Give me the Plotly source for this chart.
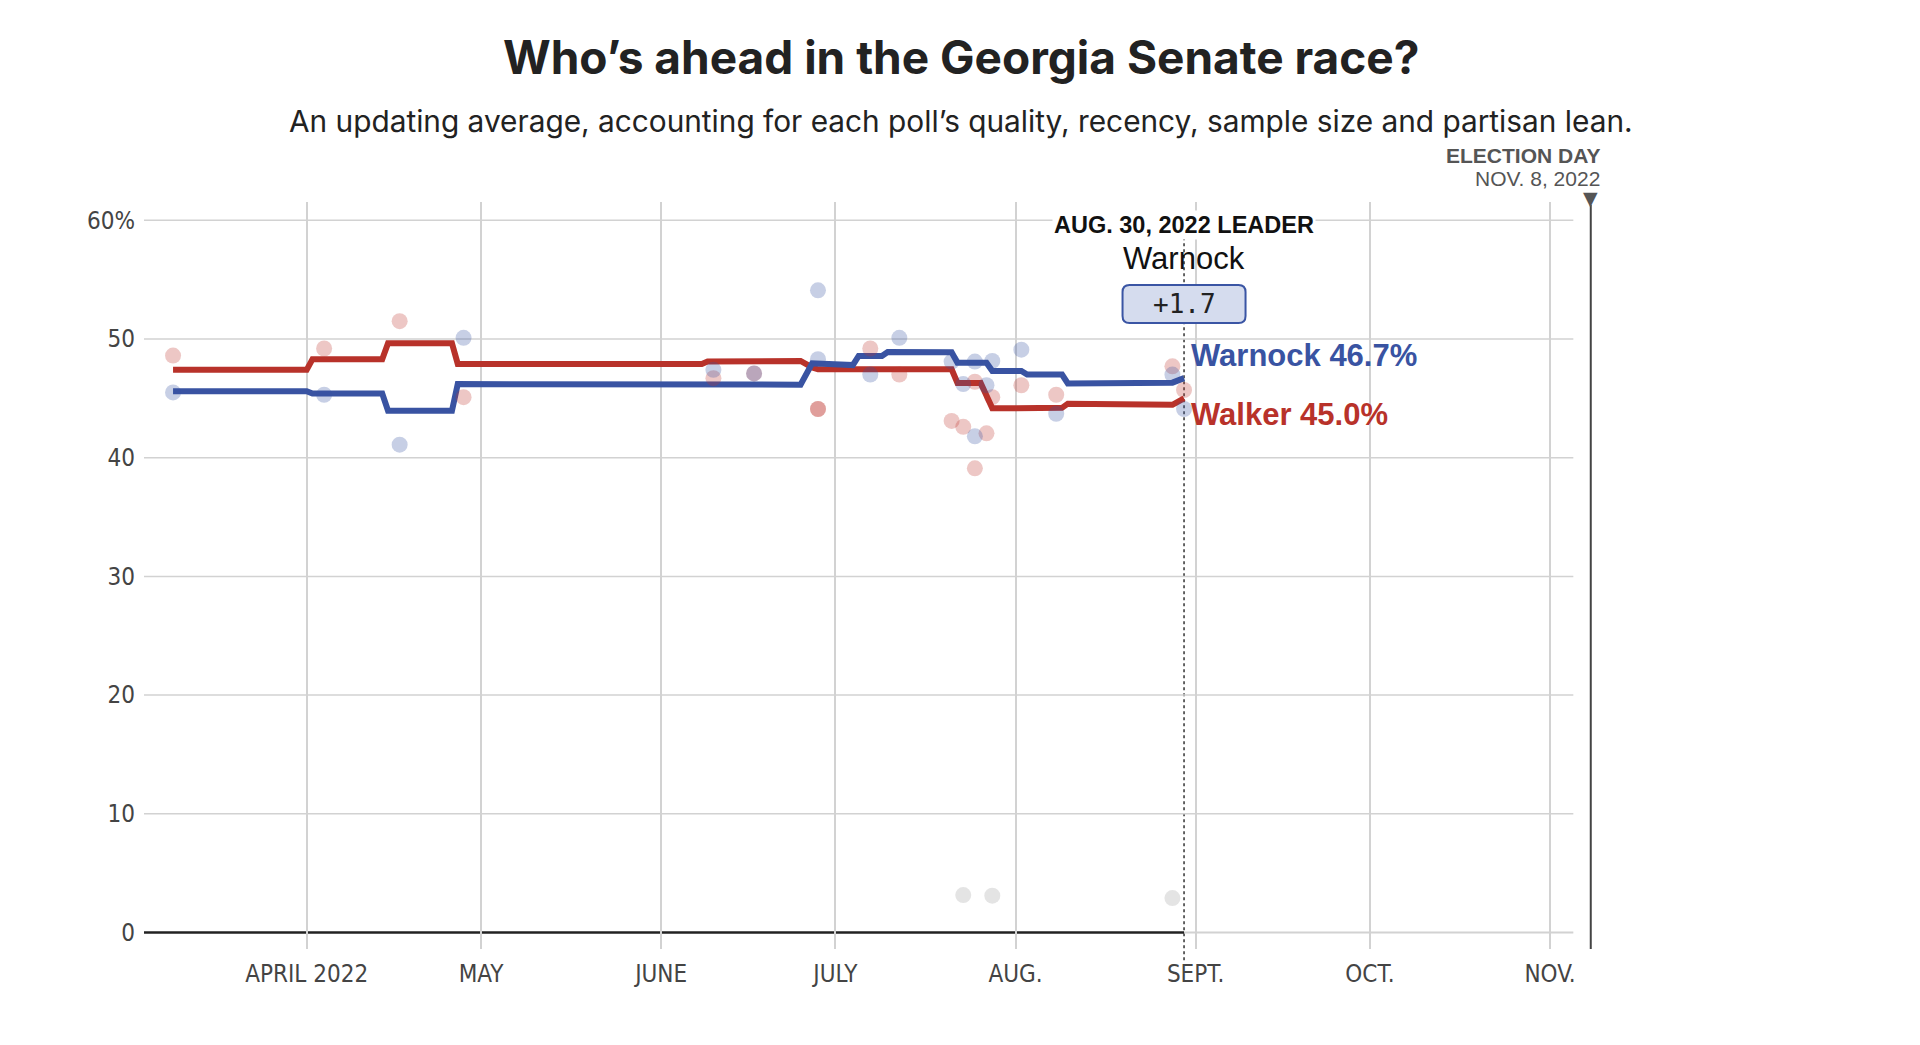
import plotly.graph_objects as go

# ---------------- data ----------------
warnock_avg_dates = ["2022-03-09", "2022-04-01", "2022-04-02", "2022-04-14", "2022-04-15",
                     "2022-04-26", "2022-04-27", "2022-06-08", "2022-06-09", "2022-06-25",
                     "2022-06-27", "2022-07-01", "2022-07-04", "2022-07-05", "2022-07-09",
                     "2022-07-10", "2022-07-21", "2022-07-22", "2022-07-27", "2022-07-28",
                     "2022-08-02", "2022-08-03", "2022-08-09", "2022-08-10", "2022-08-15",
                     "2022-08-16", "2022-08-28", "2022-08-30"]
warnock_avg = [45.6, 45.6, 45.4, 45.4, 43.95,
               43.95, 46.2, 46.2, 46.15, 46.15,
               47.95, 47.8, 47.8, 48.57, 48.57,
               48.9, 48.88, 48.0, 48.0, 47.3,
               47.3, 47.0, 47.0, 46.25, 46.25,
               46.35, 46.32, 46.7]

walker_avg_dates = ["2022-03-09", "2022-04-01", "2022-04-02", "2022-04-14", "2022-04-15",
                    "2022-04-26", "2022-04-27", "2022-06-08", "2022-06-09", "2022-06-25",
                    "2022-06-27", "2022-06-28", "2022-07-21", "2022-07-22", "2022-07-26",
                    "2022-07-28", "2022-08-09", "2022-08-10", "2022-08-28", "2022-08-30"]
walker_avg = [47.4, 47.4, 48.3, 48.3, 49.65,
              49.65, 47.9, 47.9, 48.1, 48.15,
              47.6, 47.45, 47.45, 46.3, 46.3,
              44.16, 44.2, 44.55, 44.45, 45.0]

poll_dates = ["2022-03-09", "2022-04-04", "2022-04-17", "2022-04-28", "2022-06-10",
              "2022-06-17", "2022-06-28", "2022-06-28", "2022-07-07", "2022-07-12",
              "2022-07-21", "2022-07-23", "2022-07-25", "2022-07-25", "2022-07-27",
              "2022-07-28", "2022-08-02", "2022-08-08", "2022-08-28", "2022-08-30"]
poll_warnock = [45.5, 45.3, 41.1, 50.1, 47.4,
                47.1, 54.1, 48.3, 47.0, 50.1,
                48.1, 46.2, 48.1, 41.8, 46.1,
                48.15, 49.1, 43.7, 47.0, 44.1]
poll_walker = [48.6, 49.2, 51.5, 45.1, 46.7,
               47.1, 44.1, 44.1, 49.2, 47.0,
               43.1, 42.6, 46.4, 39.1, 42.05,
               45.1, 46.1, 45.3, 47.7, 45.7]

other_dates = ["2022-07-23", "2022-07-28", "2022-08-28"]
poll_other = [3.15, 3.1, 2.9]

month_ticks = ["2022-04-01", "2022-05-01", "2022-06-01", "2022-07-01", "2022-08-01",
               "2022-09-01", "2022-10-01", "2022-11-01"]
month_labels = ["APRIL 2022", "MAY", "JUNE", "JULY", "AUG.", "SEPT.", "OCT.", "NOV."]
y_ticks = [0, 10, 20, 30, 40, 50, 60]
y_labels = ["0", "10", "20", "30", "40", "50", "60%"]

leader_date = "2022-08-30"
election_date = "2022-11-08"
x_start, x_end = "2022-03-04", "2022-11-12"
grid_end = "2022-11-05"
Y0, Y1 = -1.39, 61.54
PLOT_LEFT, PLOT_W = 144, 1470
PLOT_TOP, PLOT_H = 202, 747


def paper_y(py):
    return (PLOT_TOP + PLOT_H - py) / PLOT_H


def paper_x(px):
    return (px - PLOT_LEFT) / PLOT_W


BLUE = "#3953a2"
RED = "#b8322a"
TICK_FONT = "Liberation Sans Narrow, DejaVu Sans Condensed, Roboto Condensed, Arial Narrow, sans-serif"
TEXT_FONT = "Liberation Sans, Arial, sans-serif"

fig = go.Figure()

# averages
fig.add_trace(go.Scatter(x=walker_avg_dates, y=walker_avg, mode="lines",
                         line=dict(color=RED, width=6), hoverinfo="skip"))
fig.add_trace(go.Scatter(x=warnock_avg_dates, y=warnock_avg, mode="lines",
                         line=dict(color=BLUE, width=6), hoverinfo="skip"))
# polls
fig.add_trace(go.Scatter(x=other_dates, y=poll_other, mode="markers",
                         marker=dict(size=16, color="rgba(150,150,150,0.26)"), hoverinfo="skip"))
fig.add_trace(go.Scatter(x=poll_dates, y=poll_walker, mode="markers",
                         marker=dict(size=16, color="rgba(190,55,45,0.28)"), hoverinfo="skip"))
fig.add_trace(go.Scatter(x=poll_dates, y=poll_warnock, mode="markers",
                         marker=dict(size=16, color="rgba(55,83,160,0.28)"), hoverinfo="skip"))

shapes = []
for v in y_ticks[1:]:
    shapes.append(dict(type="line", xref="x", yref="y", x0=x_start, x1=grid_end, y0=v, y1=v,
                       line=dict(color="#d2d2d2", width=1.5), layer="below"))
# baseline
shapes.append(dict(type="line", xref="x", yref="y", x0=leader_date, x1=grid_end, y0=0, y1=0,
                   line=dict(color="#d2d2d2", width=2), layer="below"))
shapes.append(dict(type="line", xref="x", yref="y", x0=x_start, x1=leader_date, y0=0, y1=0,
                   line=dict(color="#222", width=2.5), layer="below"))
# leader dashed line
shapes.append(dict(type="line", xref="x", yref="paper", x0=leader_date, x1=leader_date,
                   y0=-0.015, y1=0.965, line=dict(color="#333", width=1.5, dash="dot"),
                   layer="below"))
# election day line
shapes.append(dict(type="line", xref="x", yref="y", x0=election_date, x1=election_date,
                   y0=Y0, y1=61.3, line=dict(color="#444", width=2), layer="below"))
# margin box (rounded)
bw, bh, r = 61.5, 19, 7
path = (f"M{-bw + r},{-bh} L{bw - r},{-bh} Q{bw},{-bh} {bw},{-bh + r} L{bw},{bh - r} "
        f"Q{bw},{bh} {bw - r},{bh} L{-bw + r},{bh} Q{-bw},{bh} {-bw},{bh - r} "
        f"L{-bw},{-bh + r} Q{-bw},{-bh} {-bw + r},{-bh} Z")
shapes.append(dict(type="path", xref="x", yref="y", xsizemode="pixel", ysizemode="pixel",
                   xanchor=leader_date, yanchor=52.95, path=path,
                   fillcolor="#d5dcee", line=dict(color="#3a55a4", width=2), layer="above"))

margin_val = warnock_avg[-1] - walker_avg[-1]

annotations = [
    dict(xref="paper", yref="paper", x=paper_x(961), y=paper_y(57), xanchor="center", yanchor="middle",
         text="<b>Who’s ahead in the Georgia Senate race?</b>", showarrow=False,
         font=dict(family="Inter, Roboto, sans-serif", size=46, color="#222")),
    dict(xref="paper", yref="paper", x=paper_x(961), y=paper_y(121), xanchor="center", yanchor="middle",
         text="An updating average, accounting for each poll’s quality, recency, sample size and partisan lean.",
         showarrow=False, font=dict(family="Inter, Roboto, sans-serif", size=29.8, color="#222")),
    dict(xref="x", yref="paper", x=election_date, y=paper_y(155), xanchor="right", yanchor="middle",
         xshift=11, text="<b>ELECTION DAY</b>", showarrow=False,
         font=dict(family=TEXT_FONT, size=21, color="#555")),
    dict(xref="x", yref="paper", x=election_date, y=paper_y(178), xanchor="right", yanchor="middle",
         xshift=11, text="NOV. 8, 2022", showarrow=False,
         font=dict(family=TEXT_FONT, size=21, color="#555")),
    dict(xref="x", yref="paper", x=election_date, y=paper_y(198), xanchor="center", yanchor="middle",
         text="▼", showarrow=False, font=dict(family="DejaVu Sans", size=19, color="#555")),
    dict(xref="x", yref="y", x=leader_date, y=59.6, xanchor="center", yanchor="middle",
         text="<b>AUG. 30, 2022 LEADER</b>", showarrow=False, bgcolor="white", borderpad=1,
         font=dict(family=TEXT_FONT, size=23.5, color="#111")),
    dict(xref="x", yref="y", x=leader_date, y=56.82, xanchor="center", yanchor="middle",
         text="Warnock", showarrow=False, font=dict(family=TEXT_FONT, size=31, color="#111")),
    dict(xref="x", yref="y", x=leader_date, y=52.95, xanchor="center", yanchor="middle",
         text=f"+{margin_val:.1f}", showarrow=False,
         font=dict(family="DejaVu Sans Mono, monospace", size=26, color="#222")),
    dict(xref="x", yref="y", x=leader_date, y=48.65, xanchor="left", yanchor="middle", xshift=5,
         text=f"<b>Warnock {warnock_avg[-1]:.1f}%</b>", showarrow=False,
         font=dict(family=TEXT_FONT, size=31, color=BLUE)),
    dict(xref="x", yref="y", x=leader_date, y=43.68, xanchor="left", yanchor="middle", xshift=5,
         text=f"<b>Walker {walker_avg[-1]:.1f}%</b>", showarrow=False,
         font=dict(family=TEXT_FONT, size=31, color=RED)),
]

fig.update_layout(
    width=1920, height=1045,
    margin=dict(l=PLOT_LEFT, r=1920 - PLOT_LEFT - PLOT_W, t=PLOT_TOP, b=1045 - PLOT_TOP - PLOT_H),
    paper_bgcolor="white", plot_bgcolor="white",
    showlegend=False,
    shapes=shapes, annotations=annotations,
    xaxis=dict(type="date", range=[x_start, x_end], tickvals=month_ticks, ticktext=month_labels,
               showgrid=True, gridcolor="#d2d2d2", gridwidth=1.5, zeroline=False, showline=False,
               ticks="", ticklabelstandoff=8,
               tickfont=dict(family=TICK_FONT, size=24, color="#444")),
    yaxis=dict(range=[Y0, Y1], tickvals=y_ticks, ticktext=y_labels, showgrid=False,
               zeroline=False, showline=False, ticks="", ticklabelstandoff=8,
               tickfont=dict(family=TICK_FONT, size=24, color="#444")),
)

fig.write_html("out.html", config={"displayModeBar": False},
               post_script="document.body.style.margin='0';document.body.style.overflow='hidden';")
